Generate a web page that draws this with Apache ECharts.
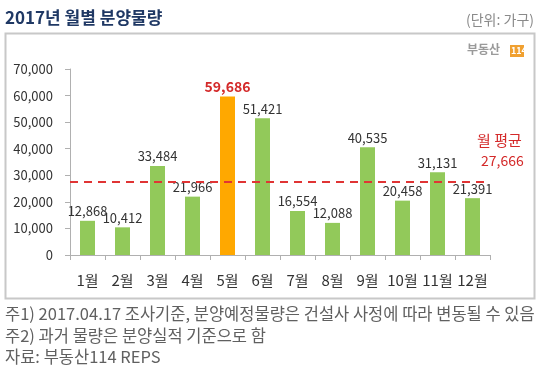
<!DOCTYPE html>
<html><head><meta charset="utf-8">
<script src="https://cdn.jsdelivr.net/npm/echarts@6/dist/echarts.min.js"></script>
<style>html,body{margin:0;padding:0;background:#fff}#c{width:540px;height:370px}</style>
</head><body><div id="c"></div>
<script>
var categories = ['1월','2월','3월','4월','5월','6월','7월','8월','9월','10월','11월','12월'];
var values = [12868, 10412, 33484, 21966, 59686, 51421, 16554, 12088, 40535, 20458, 31131, 21391];
var highlightIndex = 4;
var averageValue = 27666;
var yTicks = [0, 10000, 20000, 30000, 40000, 50000, 60000, 70000];
var title = '2017년 월별 분양물량';
var unitText = '(단위: 가구)';
var notes = ['주1) 2017.04.17 조사기준, 분양예정물량은 건설사 사정에 따라 변동될 수 있음', '주2) 과거 물량은 분양실적 기준으로 함', '자료: 부동산114 REPS'];

var FONT = '"Noto Sans CJK KR", "Noto Sans", sans-serif';
function fmt(v){ return v.toLocaleString('en-US'); }

var chart = echarts.init(document.getElementById('c'), null, {renderer:'canvas'});
chart.setOption({
  animation:false,
  textStyle:{fontFamily:FONT},
  grid:{left:70, right:50, top:69, bottom:115},
  xAxis:{
    type:'category', data:categories,
    axisLine:{lineStyle:{color:'#b0b0b0'}},
    axisTick:{show:true, length:5, lineStyle:{color:'#b0b0b0'}},
    axisLabel:{color:'#333', fontSize:15, margin:18, fontFamily:FONT, interval:0}
  },
  yAxis:{
    type:'value', min:yTicks[0], max:yTicks[yTicks.length-1], interval:10000,
    splitLine:{show:false},
    axisLine:{show:true, lineStyle:{color:'#b0b0b0'}},
    axisTick:{show:true, length:5, lineStyle:{color:'#b0b0b0'}},
    axisLabel:{color:'#333', fontSize:13, margin:17, fontFamily:FONT, formatter:function(v){return fmt(v);}}
  },
  series:[{
    type:'bar', barWidth:15,
    data:values.map(function(v,i){
      if(i===highlightIndex){
        return {value:v, itemStyle:{color:'#FFA800'}, label:{color:'#D42A2A', fontWeight:'bold', fontSize:14}};
      }
      return v;
    }),
    itemStyle:{color:'#92C95A'},
    label:{show:true, position:'top', distance:3, color:'#333', fontSize:13, fontFamily:FONT, formatter:function(p){return fmt(p.value);}},
    markLine:{
      silent:true, symbol:'none',
      lineStyle:{color:'#E03434', type:[8,6], width:2},
      label:{show:false},
      data:[{yAxis:averageValue}]
    }
  }],
  graphic:[
    {type:'rect', shape:{x:5.5, y:33.5, width:529, height:265}, style:{fill:'none', stroke:'#c8c8c8', lineWidth:2}},
    {type:'text', left:5, top:9, style:{text:title, font:'bold 17px '+FONT, fill:'#1F3864'}},
    {type:'text', right:6, top:13, style:{text:unitText, font:'14px '+FONT, fill:'#8a8a8a'}},
    {type:'text', left:467, top:43, style:{text:'부동산', font:'bold 12px '+FONT, fill:'#9a9a9a'}},
    {type:'rect', shape:{x:510, y:45, width:14, height:12}, style:{fill:'#F0A030'}},
    {type:'text', left:511, top:46, style:{text:'114', font:'bold 9px '+FONT, fill:'#fff'}},
    {type:'text', left:477, top:133, style:{text:'월 평균', font:'15px '+FONT, fill:'#D42A2A'}},
    {type:'text', left:481, top:154, style:{text:fmt(averageValue), font:'14px '+FONT, fill:'#D42A2A'}},
    {type:'text', left:5, top:305, style:{text:notes[0], font:'16.5px '+FONT, fill:'#606060'}},
    {type:'text', left:5, top:327, style:{text:notes[1], font:'16.5px '+FONT, fill:'#606060'}},
    {type:'text', left:5, top:348, style:{text:notes[2], font:'16.5px '+FONT, fill:'#606060'}}
  ]
});
</script></body></html>
